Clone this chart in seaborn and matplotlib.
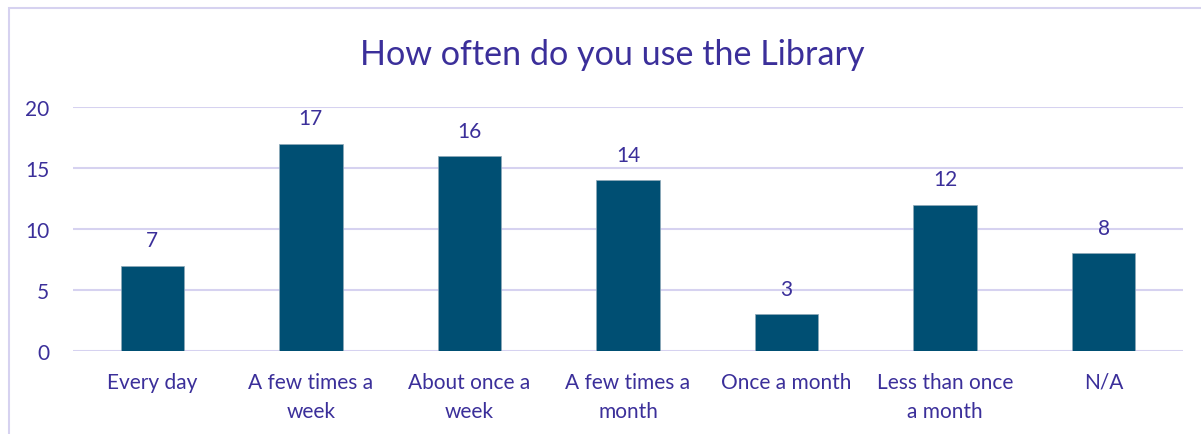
import matplotlib
matplotlib.use("Agg")
import matplotlib.pyplot as plt
import seaborn as sns
import pandas as pd
from matplotlib.patches import Rectangle

categories = ["Every day", "A few times a\nweek", "About once a\nweek", "A few times a\nmonth",
              "Once a month", "Less than once\na month", "N/A"]
values = [7, 17, 16, 14, 3, 12, 8]
yticks = [0, 5, 10, 15, 20]
title = "How often do you use the Library"

bar_color = "#004F73"
text_color = "#3B2F9A"
grid_color = "#D6D2F0"

sns.set_theme(style="white")
plt.rcParams['font.family'] = ['Lato', 'DejaVu Sans']

df = pd.DataFrame({"cat": categories, "val": values})

fig = plt.figure(figsize=(12.01, 4.35), dpi=100)
ax = fig.add_axes([0.0608, 0.1908, 0.9242, 0.5609])

sns.barplot(data=df, x="cat", y="val", color=bar_color, width=0.4, ax=ax,
            saturation=1, edgecolor="#8fa9b8", linewidth=0.5, zorder=3)

ax.set_ylim(0, 20)
ax.set_xlim(-0.5, len(categories) - 0.5)
ax.set_yticks(yticks)
for y in yticks:
    ax.axhline(y, color=grid_color, linewidth=1.5, zorder=1)
for s in ax.spines.values():
    s.set_visible(False)
ax.set_xlabel("")
ax.set_ylabel("")
ax.tick_params(axis="both", length=0, colors=text_color, labelsize=15)
ax.tick_params(axis="y", pad=17)
ax.tick_params(axis="x", pad=15)
for lbl in ax.get_xticklabels():
    lbl.set_linespacing(1.55)

for i, v in enumerate(values):
    ax.annotate(str(v), (i, v), xytext=(0, 11), textcoords="offset points",
                ha="center", va="bottom", color=text_color, fontsize=15)

fig.text(0.5095, 0.874, title, ha="center", va="center", color=text_color, fontsize=24.6)

fig.patches.append(Rectangle((9 / 1201, -0.1), 1.2, (435 - 9) / 435 + 0.1,
                             transform=fig.transFigure, fill=False,
                             edgecolor=grid_color, linewidth=1.5))

fig.savefig("out.png", dpi=100)
